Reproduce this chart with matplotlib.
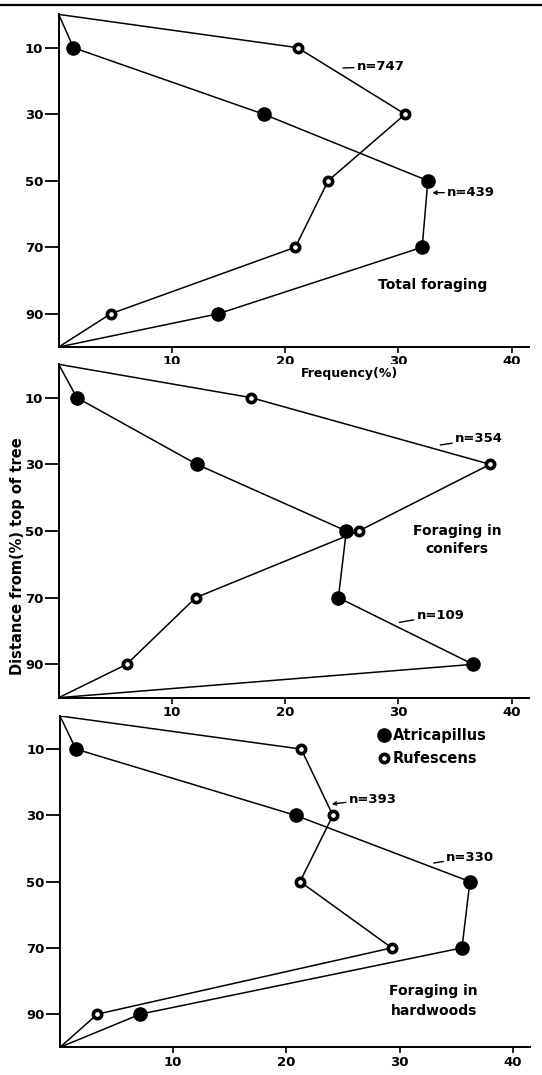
import matplotlib
matplotlib.use("Agg")
import matplotlib.pyplot as plt
from matplotlib.lines import Line2D

# depth classes (% distance from top of tree)
depths = [10, 30, 50, 70, 90]

# frequency (%)
total_atri = [1.3, 18.1, 32.6, 32.1, 14.1]
total_rufe = [21.1, 30.6, 23.8, 20.9, 4.6]
conif_atri = [1.6, 12.2, 25.4, 24.7, 36.6]
conif_rufe = [17.0, 38.1, 26.5, 12.1, 6.0]
hard_atri = [1.4, 20.8, 36.2, 35.5, 7.1]
hard_rufe = [21.3, 24.1, 21.2, 29.3, 3.3]

panel_titles = ["Total foraging", "Foraging in\nconifers", "Foraging in\nhardwoods"]
xticks = [10, 20, 30, 40]
yticks = [10, 30, 50, 70, 90]

fw = "bold"
plt.rcParams['font.family'] = ['DejaVu Sans']

fig = plt.figure(figsize=(5.42, 10.75), dpi=100)

# scan border at top
fig.add_artist(Line2D([0, 1], [0.9950, 0.9950], color="black", lw=1.6))

positions = [
    [0.1083, 0.6772, 0.867, 0.3094],
    [0.1083, 0.3510, 0.867, 0.3101],
    [0.1107, 0.0258, 0.867, 0.3082],
]


def draw(ax, atri, rufe):
    y = [0] + depths + [100]
    ax.plot([0] + atri + [0], y, color="black", lw=1.1, marker="o", ms=9.5,
            mfc="black", mec="black", markevery=list(range(1, 6)), zorder=3)
    ax.plot([0] + rufe + [0], y, color="black", lw=1.1, marker="o", ms=6,
            mfc="white", mec="black", mew=2.6, markevery=list(range(1, 6)),
            zorder=4)
    ax.set_xlim(0, 41.5)
    ax.set_ylim(100, 0)
    ax.spines["top"].set_visible(False)
    ax.spines["right"].set_visible(False)
    ax.spines["left"].set_linewidth(1.4)
    ax.spines["bottom"].set_linewidth(1.4)
    ax.set_xticks(xticks)
    ax.set_yticks(yticks)
    ax.tick_params(axis="y", length=10, width=1.3, pad=1, labelsize=9.5)
    ax.tick_params(axis="x", length=4, width=1.2, pad=2, labelsize=9.5)
    for lab in ax.get_xticklabels() + ax.get_yticklabels():
        lab.set_fontweight(fw)


axes = []
for pos in positions:
    axes.append(fig.add_axes(pos))

draw(axes[0], total_atri, total_rufe)
draw(axes[1], conif_atri, conif_rufe)
draw(axes[2], hard_atri, hard_rufe)

arrow_line = dict(arrowstyle="-", lw=1, shrinkA=0, shrinkB=0)
arrow_head = dict(arrowstyle="->", lw=1, shrinkA=0, shrinkB=0, mutation_scale=6)

# panel 1
ax = axes[0]
ax.text(33.0, 81.3, panel_titles[0], ha="center", va="center", fontsize=10, fontweight=fw)
ax.annotate("n=747", xy=(25.1, 16.1), xytext=(26.3, 15.8), ha="left", va="center",
            fontsize=9.5, fontweight=fw, arrowprops=arrow_line)
ax.annotate("n=439", xy=(33.0, 53.6), xytext=(34.3, 53.6), ha="left", va="center",
            fontsize=9.5, fontweight=fw, arrowprops=arrow_head)

# panel 2
ax = axes[1]
ax.text(35.2, 52.7, panel_titles[1], ha="center", va="center", fontsize=10,
        fontweight=fw, linespacing=1.3)
ax.annotate("n=354", xy=(33.7, 24.2), xytext=(35.0, 22.4), ha="left", va="center",
            fontsize=9.5, fontweight=fw, arrowprops=arrow_line)
ax.annotate("n=109", xy=(30.1, 77.4), xytext=(31.6, 75.3), ha="left", va="center",
            fontsize=9.5, fontweight=fw, arrowprops=arrow_line)

# panel 3
ax = axes[2]
ax.text(33.0, 86.0, panel_titles[2], ha="center", va="center", fontsize=10,
        fontweight=fw, linespacing=1.5)
ax.annotate("n=393", xy=(24.0, 26.6), xytext=(25.5, 25.1), ha="left", va="center",
            fontsize=9.5, fontweight=fw, arrowprops=arrow_head)
ax.annotate("n=330", xy=(33.0, 44.4), xytext=(34.1, 42.6), ha="left", va="center",
            fontsize=9.5, fontweight=fw, arrowprops=arrow_line)

handles = [
    Line2D([], [], ls="none", marker="o", ms=9.5, mfc="black", mec="black"),
    Line2D([], [], ls="none", marker="o", ms=6, mfc="white", mec="black", mew=2.6),
]
leg = ax.legend(handles, ["Atricapillus", "Rufescens"], loc="upper left",
                bbox_to_anchor=(0.655, 1.0), frameon=False, handlelength=0.6,
                handletextpad=0.3, labelspacing=0.55, borderpad=0.3,
                prop=dict(size=10.5, weight=fw))

fig.text(0.644, 0.653, "Frequency(%)", ha="center", va="center", fontsize=9, fontweight=fw)
fig.text(0.033, 0.483, "Distance from(%) top of tree", rotation=90, ha="center",
         va="center", fontsize=10.5, fontweight=fw)

fig.savefig("out.png", dpi=100)
